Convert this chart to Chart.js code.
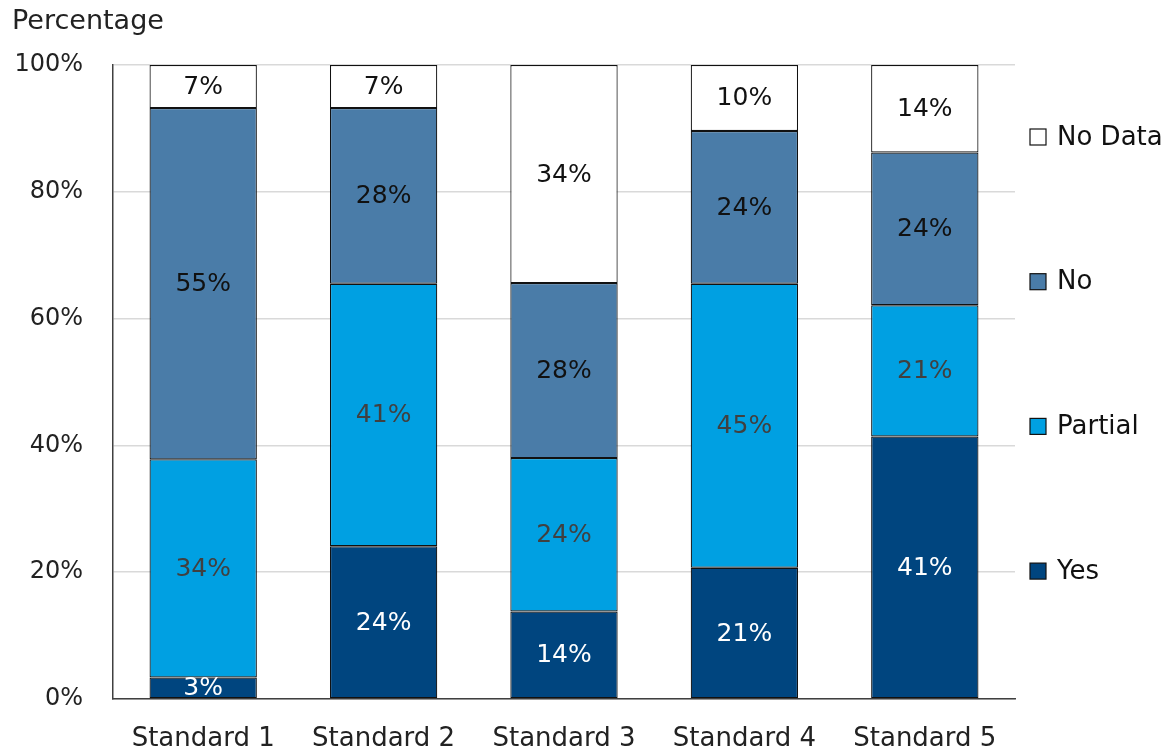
<!DOCTYPE html>
<html>
<head>
<meta charset="utf-8">
<script src="https://cdn.jsdelivr.net/npm/chart.js@4/dist/chart.umd.min.js"></script>
<style>
  html,body{margin:0;padding:0;background:#fff;}
  #wrap{width:1168px;height:751px;position:relative;}
</style>
</head>
<body>
<div id="wrap"><canvas id="c" width="1168" height="751"></canvas></div>
<script>
/* ===== Data ===== */
const categories = ['Standard 1','Standard 2','Standard 3','Standard 4','Standard 5'];
const yesVals     = [3.4, 24.1, 13.8, 20.7, 41.4];
const partialVals = [34.4, 41.4, 24.2, 44.8, 20.7];
const noVals      = [55.4, 27.7, 27.6, 24.1, 24.1];
const noDataVals  = [6.8, 6.8, 34.4, 10.4, 13.8];
const yTicks = [0, 20, 40, 60, 80, 100];

const FONT = '"DejaVu Sans", sans-serif';
const series = [
  {label:'Yes',     data:yesVals,     bg:'#00457F', txt:'#ffffff'},
  {label:'Partial', data:partialVals, bg:'#00A0E2', txt:'#404040'},
  {label:'No',      data:noVals,      bg:'#4A7CA8', txt:'#111111'},
  {label:'No Data', data:noDataVals,  bg:'#ffffff', txt:'#111111'}
];

/* ===== Plugins ===== */
const segLabels = {
  id:'segLabels',
  afterDatasetsDraw(chart){
    const ctx = chart.ctx;
    ctx.save();
    ctx.font = '25px '+FONT;
    ctx.textAlign = 'center'; ctx.textBaseline = 'middle';
    chart.data.datasets.forEach((ds,i)=>{
      chart.getDatasetMeta(i).data.forEach((el,j)=>{
        ctx.fillStyle = series[i].txt;
        ctx.fillText(Math.round(ds.data[j])+'%', el.x, (el.y+el.base)/2 + 1);
      });
    });
    ctx.restore();
  }
};

const sideLegend = {
  id:'sideLegend',
  afterDraw(chart){
    const ctx = chart.ctx, a = chart.chartArea;
    ctx.save();
    ctx.font = '26px '+FONT;
    ctx.textBaseline = 'middle'; ctx.textAlign = 'left';
    const order = [...series].reverse();
    order.forEach((s,i)=>{
      const y = a.top + 72 + i*144.7;
      ctx.fillStyle = s.bg; ctx.fillRect(a.right+15, y-8, 16, 16);
      ctx.strokeStyle = '#111'; ctx.lineWidth = 1.2; ctx.strokeRect(a.right+15, y-8, 16, 16);
      ctx.fillStyle = '#111';
      ctx.fillText(s.label, a.right+42, y+1);
    });
    // axis title
    ctx.fillStyle = '#222';
    ctx.font = '27px '+FONT;
    ctx.fillText('Percentage', 12, 22);
    ctx.restore();
  }
};

/* ===== Chart ===== */
new Chart(document.getElementById('c'), {
  type:'bar',
  data:{
    labels:categories,
    datasets:series.map(s=>({
      label:s.label, data:s.data, backgroundColor:s.bg,
      borderColor:'#111', borderWidth:1.2, borderSkipped:false,
      categoryPercentage:1, barPercentage:0.595
    }))
  },
  options:{
    responsive:false, animation:false,
    layout:{padding:{top:65, right:153, left:0, bottom:0}},
    plugins:{legend:{display:false}, tooltip:{enabled:false}},
    scales:{
      x:{
        stacked:true,
        grid:{display:false},
        border:{display:true, color:'#404040', width:1.5},
        ticks:{color:'#222', font:{family:FONT, size:26}, padding:17},
        afterFit:(s)=>{ s.height = 52; }
      },
      y:{
        stacked:true, min:0, max:100,
        afterBuildTicks:(s)=>{ s.ticks = yTicks.map(v=>({value:v})); },
        grid:{color:'#d9d9d9', lineWidth:1.5, drawTicks:false},
        border:{display:true, color:'#404040', width:1.5},
        ticks:{color:'#222', font:{family:FONT, size:24}, padding:30, callback:(v)=>v+'%'},
        afterFit:(s)=>{ s.width = 113; }
      }
    }
  },
  plugins:[segLabels, sideLegend]
});
</script>
</body>
</html>
